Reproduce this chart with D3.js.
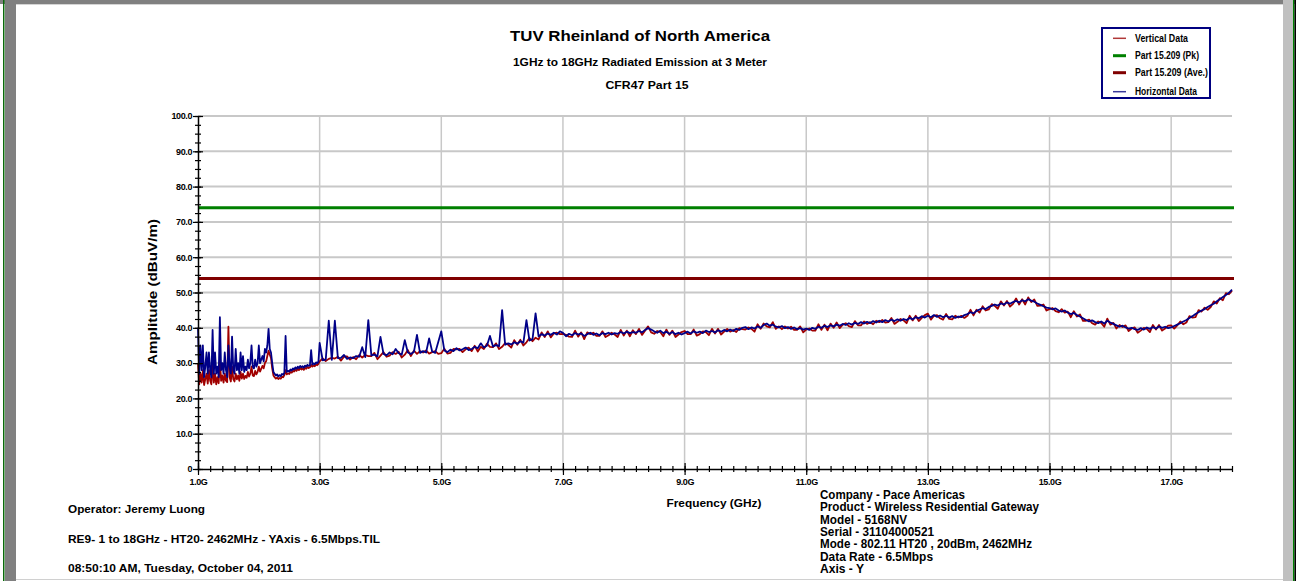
<!DOCTYPE html>
<html>
<head>
<meta charset="utf-8">
<script src="https://cdn.jsdelivr.net/npm/d3@7"></script>
<style>
  body { margin: 0; background: #fff; }
  svg { display: block; }
  text { font-family: "Liberation Sans", Arial, sans-serif; font-weight: bold; fill: #000; }
</style>
</head>
<body>
<svg id="chart"></svg>
<script>
// the analyzer sweeps in two segments (GHz)
const lowBandStart = 1.0, lowBandStep = 0.02;   // 1.00 .. 2.98
const highBandStart = 3.0, highBandStep = 0.05; // 3.00 .. 18.00

// Horizontal Data (dBuV/m)
const horizontalLow = [
  40, 27, 35, 28, 35, 26, 29, 33, 27, 33, 28, 26, 39.4, 27, 33, 27, 29, 26, 43, 28,
  30, 27, 33, 28, 26, 35, 29, 27, 37.5, 28, 27, 34, 28, 30, 27, 33, 28, 32, 27.5, 29,
  28, 31, 28.5, 30, 35, 29, 28.5, 31, 29, 30,
  35, 30, 31, 32, 30.5, 34, 33, 35, 39.7, 34, 33, 30, 27.5, 27, 26.5, 26.8, 26.2, 26.6, 26.3, 26.9,
  26.7, 27.3, 37.7, 27.5, 27.8, 27.6, 28.2, 27.9, 28.5, 28.2, 28.8, 28.4, 29, 28.6, 29.2, 28.8, 29.1, 28.7, 29.3, 29,
  29.5, 29.2, 29.4, 33.7, 29.6, 29.9, 29.7, 30.2, 30, 30.4
];
const horizontalHigh = [
  35.7, 30.8, 31, 42, 30.9, 42, 31.4, 31.5, 32.3, 31.2, 31.6, 31.4, 32, 31.8, 34.5, 31.7, 42.2, 32.2, 32.4, 31.9,
  37.4, 32.6, 32.2, 33, 32.5, 34, 32.8, 32.4, 36.5, 33, 32.6, 33.2, 38, 32.9, 33.4, 33, 37, 33.3, 32.9, 36,
  39, 33.6, 33.1, 33.8, 33.4, 34.2, 33.6, 33.9, 34.4, 33.7, 34, 34.6, 34.2, 35.6, 34.4, 34.9, 37.7, 34.7, 35.1, 34.8,
  45, 35.2, 35.6, 35.3, 35.9, 35.5, 36.2, 35.8, 42.2, 36.4, 36.8, 44.1, 37.6, 38.2, 37.8, 38.4, 38, 38.6, 38.1, 39,
  38.6, 37.6, 38.3, 37.9, 38.5, 38.1, 38.4, 37.7, 38.2, 38.6, 38, 38.4, 37.9, 38.5, 38.2, 38.6, 38.1, 38.5, 38.3, 38.8,
  38.4, 38.9, 38.5, 38.8, 38.6, 39.1, 38.7, 39.4, 39.9, 39.5, 39, 38.6, 39.2, 38.5, 38.9, 38.3, 38.8, 38.2, 38.6, 38.1,
  38.5, 38.9, 38.4, 39, 38.6, 38.9, 38.5, 39.2, 38.8, 39.1, 38.7, 39.3, 38.9, 39.4, 39, 39.5, 39.1, 39.7, 39.4, 40,
  40.2, 39.6, 40.1, 39.8, 40.4, 40, 40.8, 41.2, 40.6, 40.9, 40.3, 40.1, 40.5, 39.9, 40.2, 39.7, 40.1, 39.6, 39.9, 39.5,
  39.8, 39.4, 40, 39.7, 40.3, 40, 40.6, 40.2, 40.7, 40.4, 40.9, 40.6, 41.1, 40.8, 41.3, 40.9, 41.4, 41.1, 41.6, 41.2,
  41.7, 41.3, 41.9, 41.5, 42, 41.6, 42.2, 41.8, 42.3, 41.9, 42.4, 42, 42.5, 42.2, 42.8, 42.4, 43, 42.7, 43.3, 42.9,
  43.4, 43, 43.6, 43.1, 43.5, 43, 43.4, 42.9, 43.3, 42.8, 43.2, 43, 43.6, 43.9, 44.4, 44.1, 44.8, 45.2, 45.6, 45.3,
  45.9, 46.2, 46.6, 46.3, 46.9, 46.6, 47.2, 46.8, 47.3, 47.6, 47.2, 47.8, 47.5, 48.1, 47.7, 47.4, 46.9, 46.5, 46.1, 45.7,
  45.6, 45.2, 45.5, 44.9, 44.6, 44.9, 44.3, 43.9, 44.2, 43.6, 43.2, 42.7, 42.2, 41.8, 42.1, 41.6, 41.3, 41.8, 41.2, 42,
  41.5, 41.1, 40.7, 40.3, 40.6, 40.1, 39.8, 40, 39.6, 39.4, 39.9, 39.5, 40.1, 39.7, 40.2, 39.8, 40.4, 40, 40.3, 39.9,
  40.1, 40.5, 40.9, 41.3, 41.8, 42.2, 42.8, 43.3, 43.9, 44.4, 44.9, 45.3, 45.9, 46.4, 46.8, 47.5, 48.1, 48.7, 49.3, 49.9, 50.8
];

// Vertical Data (dBuV/m)
const verticalLow = [
  30, 24, 27, 24.5, 28, 23.8, 25.5, 27, 24.2, 28, 25, 24, 30, 24.5, 27, 24, 26, 24.3, 31, 25,
  26.5, 24.5, 27, 25, 24.6, 40.3, 26, 24.8, 29, 25.5, 24.8, 27, 25.4, 26.5, 25, 27.5, 25.6, 27, 25.5, 26.4,
  25.8, 27.5, 26.2, 27, 29, 26.5, 26.3, 27.8, 26.8, 27.5,
  29, 27.6, 28.4, 29.2, 28.5, 30, 30.5, 32, 33.5, 32.4, 31.5, 28.5, 26.5, 26, 25.6, 25.9, 25.5, 25.8, 25.6, 26.1,
  26, 26.6, 28, 26.8, 27.1, 26.9, 27.5, 27.3, 27.8, 27.6, 28.1, 27.8, 28.4, 28, 28.6, 28.2, 28.5, 28.1, 28.7, 28.4,
  28.9, 28.6, 28.8, 29.5, 29, 29.3, 29.1, 29.6, 29.4, 29.8
];
const verticalHigh = [
  30.5, 31.3, 30.6, 31.2, 31.5, 31.3, 31.8, 30.7, 31.8, 31.9, 31, 31.7, 31.1, 32.3, 31.6, 32.3, 32, 32, 32.9, 31.1,
  32.1, 33.1, 31.8, 32.1, 33.1, 32.6, 33.2, 31.6, 32.4, 33.7, 32, 33.5, 32.6, 33.4, 33, 33.6, 32.7, 33.1, 33.4, 32.6,
  32.8, 34.1, 32.7, 32.9, 34, 33.9, 34, 33.1, 33.9, 34.4, 33.4, 34.9, 33.3, 34.6, 34, 35.5, 34.6, 34.5, 35.6, 34,
  34.6, 35.7, 35.2, 34.4, 36.5, 35.2, 36.6, 35, 35.9, 37.1, 36.2, 37.2, 36.7, 38.7, 37.4, 39, 37.3, 38.4, 38.6, 38.2,
  38.3, 38, 37.5, 37.4, 39.2, 37.5, 38.7, 36.8, 38.7, 38.2, 38.6, 37.7, 37.7, 39, 37.4, 37.9, 38.6, 38.1, 37.4, 39.4,
  37.8, 39.2, 37.6, 39.3, 38.2, 39.7, 38, 39.2, 40.4, 38.7, 38.3, 39.1, 38.8, 37.6, 39.5, 38, 39.2, 37.4, 38.1, 38.8,
  39.1, 38.2, 38.2, 39.5, 37.8, 38.2, 39, 38.8, 37.9, 39.7, 38.4, 39.7, 38.1, 38.9, 39.7, 38.9, 39.4, 38.8, 39.9, 39.6,
  39.5, 40.1, 39.7, 38.9, 41, 39.7, 41.2, 40.4, 40.1, 41.6, 39.7, 40.4, 39.6, 40.4, 39.8, 40.3, 39.4, 39.4, 40.4, 38.7,
  39.5, 39.8, 39.2, 39.2, 41, 39.4, 40.9, 39.3, 41.2, 40, 41.5, 39.9, 40.9, 41.3, 40.5, 40.2, 41.9, 40.7, 40.7, 41.8,
  41.1, 41.6, 41, 42, 41.6, 42.2, 41.5, 41.6, 42.8, 41.1, 41.7, 42.5, 42.1, 41.3, 43.4, 42.1, 43.4, 41.9, 42.8, 43.6,
  44, 42.3, 43.4, 43.6, 42.7, 42.3, 43.9, 42.5, 42.4, 43.4, 42.9, 43.4, 42.8, 43.4, 45.1, 43.5, 45.1, 44.3, 46.1, 44.9,
  45.2, 46.7, 46.2, 45.4, 47.5, 46.3, 47.6, 46, 46.8, 48.3, 46.6, 48.1, 46.6, 48.6, 47.3, 48, 46.2, 46.3, 46.6, 44.9,
  45.3, 45.6, 44.7, 44.4, 45.3, 44.3, 44.6, 43, 44.7, 43.2, 43.8, 42, 42, 42.3, 41.3, 40.9, 41.8, 41.4, 40.3, 42.6,
  40.9, 41.4, 39.8, 40.8, 40.2, 40.7, 39.1, 39.8, 40.1, 38.6, 39.2, 40, 39.7, 38.8, 40.8, 39.5, 40.8, 39.2, 39.8, 40.6,
  40.7, 39.8, 40.7, 41.8, 41, 41.5, 43.3, 42.9, 43, 45, 44.6, 45.7, 45.1, 45.9, 47.5, 46.9, 48.4, 47.8, 49.8, 49.5, 50.5
];

// limits (dBuV/m)
const limitPk = 74;
const limitAve = 54;

// axes
const freqMajorTicks = [1, 3, 5, 7, 9, 11, 13, 15, 17];
const ampMajorTicks = [0, 10, 20, 30, 40, 50, 60, 70, 80, 90, 100];

// texts
const titleLines = ['TUV Rheinland of North America', '1GHz to 18GHz Radiated Emission at 3 Meter', 'CFR47 Part 15'];
const legendItems = ['Vertical Data', 'Part 15.209 (Pk)', 'Part 15.209 (Ave.)', 'Horizontal Data'];
const leftNotes = ['Operator: Jeremy Luong', 'RE9- 1 to 18GHz - HT20- 2462MHz - YAxis - 6.5Mbps.TIL', '08:50:10 AM, Tuesday, October 04, 2011'];
const rightNotes = ['Company - Pace Americas', 'Product - Wireless Residential Gateway', 'Model - 5168NV', 'Serial - 31104000521',
  'Mode - 802.11 HT20 , 20dBm, 2462MHz', 'Data Rate - 6.5Mbps', 'Axis  - Y'];

const W = 1296, H = 581;
const svg = d3.select('#chart').attr('width', W).attr('height', H);

// window frame
svg.append('rect').attr('width', W).attr('height', H).attr('fill', '#fff');
svg.append('rect').attr('x', 0).attr('y', 0).attr('width', W).attr('height', 4).attr('fill', '#808080');
svg.append('line').attr('x1', 16).attr('x2', 1283).attr('y1', 4.5).attr('y2', 4.5).attr('stroke', '#d4d4d4');
svg.append('rect').attr('x', 3).attr('y', 0).attr('width', 1.5).attr('height', H).attr('fill', '#0a6a0a');
svg.append('rect').attr('x', 5).attr('y', 0).attr('width', 11).attr('height', H).attr('fill', '#808080');
svg.append('rect').attr('x', 1283).attr('y', 0).attr('width', 10).attr('height', H).attr('fill', '#c0c0c0');
svg.append('rect').attr('x', 1293).attr('y', 0).attr('width', 1.5).attr('height', H).attr('fill', '#008000');
svg.append('rect').attr('x', 1294.5).attr('y', 0).attr('width', 1.5).attr('height', H).attr('fill', '#000');
svg.append('line').attr('x1', 16).attr('x2', 1283).attr('y1', 579.5).attr('y2', 579.5).attr('stroke', '#d0d0d0');

// scales
const x = d3.scaleLinear().domain([1, 18]).range([198, 1232]);
const y = d3.scaleLinear().domain([0, 100]).range([469, 116]);

function txt(xp, yp, str, size, len, anchor) {
  const t = svg.append('text')
    .attr('x', xp).attr('y', yp)
    .attr('text-anchor', anchor || 'start')
    .style('font-size', size + 'px')
    .text(str);
  if (len) t.attr('textLength', len).attr('lengthAdjust', 'spacingAndGlyphs');
  return t;
}

// titles
txt(640, 41, titleLines[0], 15, 260, 'middle');
txt(640, 66, titleLines[1], 11, 254, 'middle');
txt(647, 89, titleLines[2], 11, 83, 'middle');

// grid
svg.append('g').selectAll('line')
  .data(ampMajorTicks.filter(d => d > 0))
  .join('line')
  .attr('x1', x(1)).attr('x2', x(18))
  .attr('y1', d => y(d)).attr('y2', d => y(d))
  .attr('stroke', '#c8c8c8').attr('stroke-width', 2);

svg.append('g').selectAll('line')
  .data(freqMajorTicks.filter(d => d > 1))
  .join('line')
  .attr('x1', d => x(d)).attr('x2', d => x(d))
  .attr('y1', y(100)).attr('y2', y(0))
  .attr('stroke', '#c8c8c8').attr('stroke-width', 1.5);

// limit lines
svg.append('line')
  .attr('x1', x(1)).attr('x2', x(18) + 2)
  .attr('y1', y(limitPk)).attr('y2', y(limitPk))
  .attr('stroke', '#008000').attr('stroke-width', 3);
svg.append('line')
  .attr('x1', x(1)).attr('x2', x(18) + 2)
  .attr('y1', y(limitAve)).attr('y2', y(limitAve))
  .attr('stroke', '#800000').attr('stroke-width', 3);

// data traces: join the two sweep segments into [freq, level] pairs
function sweep(low, high) {
  const pts = low.map((v, i) => [lowBandStart + i * lowBandStep, v]);
  return pts.concat(high.map((v, i) => [highBandStart + i * highBandStep, v]));
}

const line = d3.line()
  .x(d => x(d[0]))
  .y(d => y(d[1]));

svg.append('path')
  .datum(sweep(verticalLow, verticalHigh))
  .attr('d', line)
  .attr('fill', 'none')
  .attr('stroke', '#a00000')
  .attr('stroke-width', 1.8)
  .attr('stroke-linejoin', 'round');

svg.append('path')
  .datum(sweep(horizontalLow, horizontalHigh))
  .attr('d', line)
  .attr('fill', 'none')
  .attr('stroke', '#000088')
  .attr('stroke-width', 1.8)
  .attr('stroke-linejoin', 'round');

// axes: ticks cross the axis line, so draw each side
function styleAxis(g, showDomain) {
  g.selectAll('line').attr('stroke', '#000').attr('stroke-width', 1.2);
  g.select('.domain').attr('stroke', showDomain ? '#000' : 'none').attr('stroke-width', 1.5);
  g.selectAll('text').style('font-size', '9px').style('font-family', '"Liberation Sans", Arial, sans-serif')
    .style('font-weight', 'bold').style('letter-spacing', '-0.4px').attr('fill', '#000');
}

const yMinor = d3.range(0, 100.01, 2.5);
const xMinor = d3.range(1, 18.001, 0.2);
const yFmt = d => d === 0 ? '0' : d.toFixed(1);
const xFmt = d => d.toFixed(1) + 'G';

const yl = svg.append('g').attr('transform', `translate(${x(1)},0)`);
yl.append('g').call(d3.axisLeft(y).tickValues(yMinor).tickSize(3).tickSizeOuter(0).tickFormat('')).call(g => styleAxis(g, false));
yl.append('g').call(d3.axisRight(y).tickValues(yMinor).tickSize(3).tickSizeOuter(0).tickFormat('')).call(g => styleAxis(g, false));
yl.append('g').call(d3.axisRight(y).tickValues(ampMajorTicks).tickSize(5).tickSizeOuter(0).tickFormat('')).call(g => styleAxis(g, false));
yl.append('g').call(d3.axisLeft(y).tickValues(ampMajorTicks).tickSize(5).tickSizeOuter(0).tickPadding(1).tickFormat(yFmt)).call(g => styleAxis(g, true));

const xl = svg.append('g').attr('transform', `translate(0,${y(0)})`);
xl.append('g').call(d3.axisBottom(x).tickValues(xMinor).tickSize(3).tickSizeOuter(0).tickFormat('')).call(g => styleAxis(g, false));
xl.append('g').call(d3.axisTop(x).tickValues(xMinor).tickSize(3).tickSizeOuter(0).tickFormat('')).call(g => styleAxis(g, false));
xl.append('g').call(d3.axisTop(x).tickValues(freqMajorTicks).tickSize(6).tickSizeOuter(0).tickFormat('')).call(g => styleAxis(g, false));
xl.append('g').call(d3.axisBottom(x).tickValues(freqMajorTicks).tickSize(6).tickSizeOuter(0).tickPadding(4).tickFormat(xFmt)).call(g => styleAxis(g, true));

// axis titles
txt(0, 0, 'Amplitude  (dBuV/m)', 12, 146, 'middle')
  .attr('transform', 'translate(157,292) rotate(-90)');
txt(714, 507, 'Frequency (GHz)', 11.5, 95, 'middle');

// notes
const leftLens = [137, 312, 225];
leftNotes.forEach((s, i) => txt(68, 513 + i * 29.5, s, 11.5, leftLens[i]));

const rightLens = [145, 219, 87, 114, 212, 113, 44];
rightNotes.forEach((s, i) => txt(820, 499 + i * 12.3, s, 12, rightLens[i]));

// legend
const legendColors = ['#b03838', '#008000', '#800000', '#3a3a9a'];
const legendWidths = [1.5, 3, 3, 1.5];
const legendLens = [53, 64, 73, 62];
const legendRows = [38.3, 55.7, 72.7, 91.7];
const lg = svg.append('g');
lg.append('rect').attr('x', 1102).attr('y', 28).attr('width', 108).attr('height', 70).attr('fill', '#fff');
legendItems.forEach((s, i) => {
  lg.append('line')
    .attr('x1', 1113).attr('x2', 1126)
    .attr('y1', legendRows[i]).attr('y2', legendRows[i])
    .attr('stroke', legendColors[i]).attr('stroke-width', legendWidths[i]);
  txt(1135, legendRows[i] + 3.6, s, 10, legendLens[i]);
});
lg.append('rect').attr('x', 1102).attr('y', 28).attr('width', 108).attr('height', 70)
  .attr('fill', 'none').attr('stroke', '#000080').attr('stroke-width', 2);
</script>
</body>
</html>
